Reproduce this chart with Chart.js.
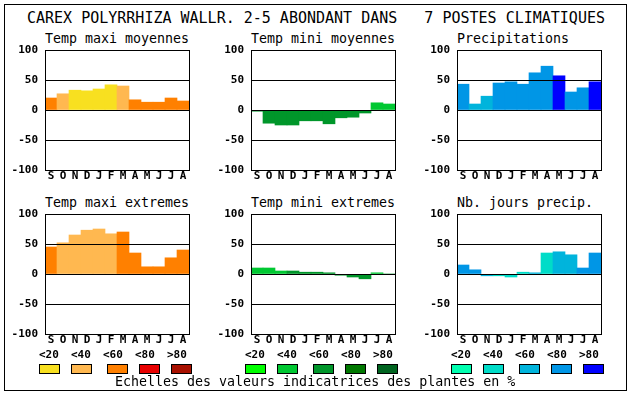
<!DOCTYPE html>
<html>
<head>
<meta charset="utf-8">
<script src="https://cdn.jsdelivr.net/npm/chart.js@4.4.1/dist/chart.umd.min.js"></script>
<style>
  body { margin: 0; background: #fff; font-family: 'DejaVu Sans Mono', monospace; }
  #cadre { position: absolute; left: 4px; top: 4px; width: 623px; height: 387px; border: 1px solid #000; box-sizing: border-box; }
  .txt { position: absolute; white-space: pre; line-height: 1; color: #000; }
  canvas { position: absolute; }
  .case { position: absolute; width: 21px; height: 10px; border: 1px solid #000; box-sizing: border-box; }
</style>
</head>
<body>
<div id="cadre"></div>
<div class="txt" style="left:27px; top:10.5px; font-size:15px;">CAREX POLYRRHIZA WALLR. 2-5 ABONDANT DANS   7 POSTES CLIMATIQUES</div>
<div id="zone"></div>
<script>
// mois de septembre a aout
const mois = ['S', 'O', 'N', 'D', 'J', 'F', 'M', 'A', 'M', 'J', 'J', 'A'];
const seuils = ['<20', '<40', '<60', '<80', '>80'];

// palettes des classes (<20 ... >80)
const palChaud = ['#F8E020', '#FFB850', '#FF8000', '#E80000', '#A81000'];
const palFroid = ['#00FF00', '#00C832', '#00962A', '#007800', '#006420'];
const palEau = ['#00FFB0', '#00DCC8', '#00B4DC', '#0096E6', '#0000FF'];

// valeurs et classe de chaque mois
const tmaxMoy = [20, 27, 33, 32, 35, 42, 40, 17, 13, 13, 20, 15];
const tmaxMoyCl = [2, 1, 0, 0, 0, 0, 1, 2, 2, 2, 2, 2];

const tminMoy = [-2, -22, -25, -25, -18, -18, -23, -13, -12, -5, 12, 10];
const tminMoyCl = [2, 2, 2, 2, 2, 2, 2, 2, 2, 2, 1, 1];

const precip = [43, 10, 23, 45, 47, 43, 62, 73, 57, 30, 37, 47];
const precipCl = [3, 2, 2, 3, 3, 3, 3, 3, 4, 3, 3, 4];

const tmaxExt = [45, 52, 65, 73, 75, 67, 70, 35, 12, 12, 27, 40];
const tmaxExtCl = [2, 1, 1, 1, 1, 1, 2, 2, 2, 2, 2, 2];

const tminExt = [10, 10, 5, 5, 3, 3, 2, -2, -5, -8, 2, 0];
const tminExtCl = [1, 1, 1, 2, 2, 2, 2, 2, 2, 2, 1, 2];

const joursPrecip = [15, 7, -3, -3, -5, 3, 2, 35, 37, 32, 10, 35];
const joursPrecipCl = [3, 3, 2, 1, 1, 1, 2, 1, 2, 2, 3, 3];

const panneaux = [
  { titre: 'Temp maxi moyennes', val: tmaxMoy, cl: tmaxMoyCl, pal: palChaud, col: 0, lig: 0 },
  { titre: 'Temp mini moyennes', val: tminMoy, cl: tminMoyCl, pal: palFroid, col: 1, lig: 0 },
  { titre: 'Precipitations', val: precip, cl: precipCl, pal: palEau, col: 2, lig: 0 },
  { titre: 'Temp maxi extremes', val: tmaxExt, cl: tmaxExtCl, pal: palChaud, col: 0, lig: 1 },
  { titre: 'Temp mini extremes', val: tminExt, cl: tminExtCl, pal: palFroid, col: 1, lig: 1 },
  { titre: 'Nb. jours precip.', val: joursPrecip, cl: joursPrecipCl, pal: palEau, col: 2, lig: 1 },
];

Chart.defaults.font.family = "'DejaVu Sans Mono', monospace";

const zone = document.getElementById('zone');

// cadre noir autour de la zone de trace
const cadrePlugin = {
  id: 'cadre',
  afterDraw(chart) {
    const { ctx, chartArea: a } = chart;
    ctx.save();
    ctx.strokeStyle = '#000';
    ctx.lineWidth = 1;
    ctx.strokeRect(a.left + 0.5, a.top + 0.5, a.right - a.left, a.bottom - a.top);
    ctx.restore();
  }
};

panneaux.forEach(function (p) {
  const gauche = 45 + 206 * p.col;
  const haut = [50, 214][p.lig];

  const t = document.createElement('div');
  t.className = 'txt';
  t.style.left = gauche + 'px';
  t.style.top = (haut - 18.5) + 'px';
  t.style.fontSize = '13.3px';
  t.textContent = p.titre;
  zone.appendChild(t);

  const cv = document.createElement('canvas');
  cv.width = 200;
  cv.height = 146;
  cv.style.left = (gauche - 45) + 'px';
  cv.style.top = (haut - 6) + 'px';
  zone.appendChild(cv);

  new Chart(cv, {
    type: 'bar',
    data: {
      labels: mois,
      datasets: [{
        data: p.val,
        backgroundColor: p.cl.map(c => p.pal[c]),
        borderWidth: 0,
        barPercentage: 1,
        categoryPercentage: 1,
      }]
    },
    options: {
      responsive: false,
      animation: false,
      layout: { padding: { top: 6, right: 11, left: 0, bottom: 0 } },
      plugins: { legend: { display: false }, tooltip: { enabled: false } },
      scales: {
        x: {
          grid: { display: false, drawTicks: false },
          border: { display: false },
          ticks: { color: '#000', padding: 0, maxRotation: 0, autoSkip: false, font: { size: 11, weight: 'bold' } },
          afterFit: s => { s.height = 20; s.paddingLeft = 0; s.paddingRight = 0; }
        },
        y: {
          min: -100,
          max: 100,
          grid: { color: '#000', lineWidth: 1, drawTicks: false, z: 1 },
          border: { display: false },
          ticks: { stepSize: 50, color: '#000', padding: 7, font: { size: 11, weight: 'bold' } },
          afterFit: s => { s.width = 45; s.paddingTop = 0; s.paddingBottom = 0; }
        }
      }
    },
    plugins: [cadrePlugin]
  });
});

// echelles de couleurs sous chaque colonne
const casesX = [39, 71, 107, 139, 171];
const etiqX = [39, 71, 103, 135, 167];
[palChaud, palFroid, palEau].forEach(function (pal, i) {
  pal.forEach(function (coul, k) {
    const e = document.createElement('div');
    e.className = 'txt';
    e.style.left = (etiqX[k] + 206 * i) + 'px';
    e.style.top = '349px';
    e.style.fontSize = '11px';
    e.style.fontWeight = 'bold';
    e.textContent = seuils[k];
    zone.appendChild(e);

    const b = document.createElement('div');
    b.className = 'case';
    b.style.left = (casesX[k] + 206 * i) + 'px';
    b.style.top = '364px';
    b.style.background = coul;
    zone.appendChild(b);
  });
});

const leg = document.createElement('div');
leg.className = 'txt';
leg.style.left = '115px';
leg.style.top = '375.4px';
leg.style.fontSize = '13.3px';
leg.textContent = 'Echelles des valeurs indicatrices des plantes en %';
zone.appendChild(leg);
</script>
</body>
</html>
